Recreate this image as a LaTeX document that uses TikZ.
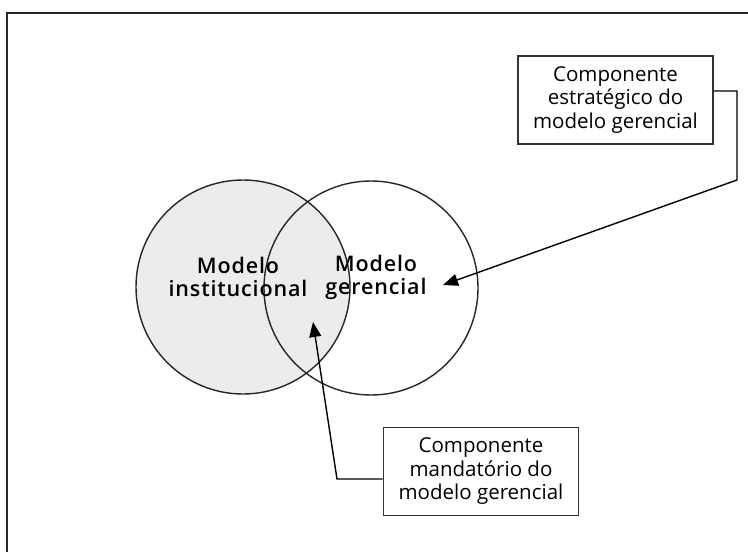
\documentclass[tikz,border=0pt]{standalone}
\usepackage{fontspec}
\setmainfont{Open Sans}[BoldFont = * Semibold]
\usetikzlibrary{arrows.meta}

\begin{document}
\begin{tikzpicture}[
  x = 1pt, y = -1pt,
  % circles and boxes are placed at pixel coordinates of the page
  ring/.style    = {draw, line width=1.4pt, draw=black!85},
  note/.style    = {draw, line width=1.6pt, draw=black!80, align=center,
                    inner sep=0pt, minimum width=195pt, minimum height=88pt,
                    font=\fontsize{20.5}{23.5}\selectfont},
  setname/.style = {align=center, inner sep=0pt,
                    font=\fontsize{21.5}{23}\selectfont\bfseries\addfontfeatures{LetterSpace=4}},
  pointer/.style = {line width=1.4pt, -{Triangle[length=15pt, width=12pt]}},
]
\useasboundingbox (0, 0) rectangle (748, 552);

% --- frame, cut by the right and bottom page edges
\draw[line width=1.8pt, black!85] (7, 552) -- (7, 13) -- (748, 13);

% --- the two models
\fill[gray!15] (243, 287) circle[radius=107];
\draw[ring] (243, 287) circle[radius=107];
\draw[ring] (371, 288) circle[radius=107];
\node[setname] (inst) at (238, 277) {Modelo\\institucional};
\node[setname] (ger)  at (376, 277) {Modelo\\gerencial};

% --- strategic component
\node[note] (estr) at (615.5, 100) {Componente\\estratégico do\\modelo gerencial};
\coordinate (estrbend) at (737, 180);
\coordinate (estrtip)  at (443, 285);
\draw[pointer] ([yshift=9pt]estr.east) -| (estrbend) -- (estrtip);

% --- mandatory component
\node[note] (mand) at (481, 471.5) {Componente\\mandatório do\\modelo gerencial};
\coordinate (mandbend) at (337, 479);
\coordinate (mandtip)  at (313, 322);
\draw[pointer] ([yshift=-7.5pt]mand.west) -- (mandbend) -- (mandtip);

\end{tikzpicture}
\end{document}
